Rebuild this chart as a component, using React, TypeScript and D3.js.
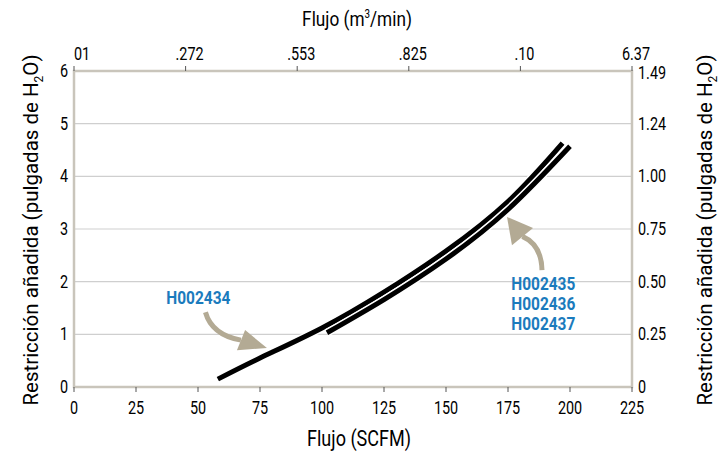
import { useEffect, useRef } from 'react';
import * as d3 from 'd3';

// H002434
const flowA = [58, 75, 100, 125, 150, 175, 197];
const restrictionA = [0.15, 0.55, 1.12, 1.8, 2.58, 3.52, 4.63];

// H002435 / H002436 / H002437
const flowB = [102, 125, 150, 175, 200];
const restrictionB = [1.03, 1.66, 2.43, 3.37, 4.57];

const bottomTicks = [0, 25, 50, 75, 100, 125, 150, 175, 200, 225];
const leftTicks = [0, 1, 2, 3, 4, 5, 6];
const rightTickLabels = ['0', '0.25', '0.50', '0.75', '1.00', '1.24', '1.49'];
const topTickLabels = ['01', '.272', '.553', '.825', '.10', '6.37'];
const groupLabels = ['H002435', 'H002436', 'H002437'];

const W = 722;
const H = 454;
const margin = { top: 71, right: 90, bottom: 67, left: 74 };

const FONT = 'Roboto, "Liberation Sans", sans-serif';
const SQUEEZE = 0.8;
const BLUE = '#1b7bbd';
const BEIGE = '#b3aa94';

export default function App() {
  const svgRef = useRef<SVGSVGElement>(null);

  useEffect(() => {
    if (!svgRef.current) return;
    document.body.style.margin = '0';
    const svg = d3.select(svgRef.current);
    svg.selectAll('*').remove();

    const x = d3.scaleLinear().domain([0, 225]).range([margin.left, W - margin.right]);
    const y = d3.scaleLinear().domain([0, 6]).range([H - margin.bottom, margin.top]);
    const xTop = d3.scaleLinear().domain([0, topTickLabels.length - 1]).range([margin.left, W - margin.right]);

    // condensed-looking text: squeeze horizontally around the anchor point
    const narrow = (
      parent: d3.Selection<any, any, any, any>,
      px: number,
      py: number,
      size: number,
      anchor: string,
      sx = SQUEEZE,
    ) =>
      parent.append('text')
        .attr('transform', `translate(${px},${py}) scale(${sx},1)`)
        .attr('text-anchor', anchor)
        .style('font-family', FONT)
        .style('font-size', `${size}px`);

    // gridlines
    svg.append('g')
      .selectAll('line')
      .data(leftTicks.slice(1, -1))
      .join('line')
      .attr('x1', x(0)).attr('x2', x(225))
      .attr('y1', (d) => y(d)).attr('y2', (d) => y(d))
      .attr('stroke', '#cfcfcf')
      .attr('stroke-width', 1.2);

    // frame
    svg.append('rect')
      .attr('x', x(0)).attr('y', y(6))
      .attr('width', x(225) - x(0)).attr('height', y(0) - y(6))
      .attr('fill', 'none')
      .attr('stroke', '#c9c5bb')
      .attr('stroke-width', 2.5);

    // bottom axis
    svg.append('g')
      .selectAll('line')
      .data(bottomTicks)
      .join('line')
      .attr('x1', (d) => x(d)).attr('x2', (d) => x(d))
      .attr('y1', y(0)).attr('y2', y(0) + 5)
      .attr('stroke', '#555').attr('stroke-width', 1);
    const gb = svg.append('g');
    bottomTicks.forEach((d) => narrow(gb, x(d), 414, 18, 'middle').text(String(d)));

    // top axis
    svg.append('g')
      .selectAll('line')
      .data(topTickLabels)
      .join('line')
      .attr('x1', (_, i) => xTop(i)).attr('x2', (_, i) => xTop(i))
      .attr('y1', y(6) - 5).attr('y2', y(6))
      .attr('stroke', '#555').attr('stroke-width', 1);
    const gt = svg.append('g');
    topTickLabels.forEach((d, i) => narrow(gt, xTop(i) + (i === 0 ? 8 : 4), 60, 18, 'middle').text(d));

    // left / right axis labels
    const gl = svg.append('g');
    leftTicks.forEach((d) => narrow(gl, x(0) - 6, y(d) + 6, 18, 'end').text(String(d)));
    const gr = svg.append('g');
    leftTicks.forEach((d, i) =>
      narrow(gr, x(225) + 6, y(d) + (i === leftTicks.length - 1 ? 8 : 6), 18, 'start').text(rightTickLabels[i]),
    );

    // axis titles
    narrow(svg, 357, 26, 21, 'middle', 0.82).call((t) => {
      t.append('tspan').text('Flujo (m');
      t.append('tspan').attr('dy', -8).style('font-size', '12px').text('3');
      t.append('tspan').attr('dy', 8).text('/min)');
    });
    narrow(svg, 359, 446, 22, 'middle', 0.82).text('Flujo (SCFM)');

    const sideTitle = (cx: number) => {
      svg.append('text')
        .attr('transform', `translate(${cx},${230}) rotate(-90)`)
        .attr('text-anchor', 'middle')
        .style('font-family', FONT).style('font-size', '20.5px')
        .call((t) => {
          t.append('tspan').text('Restricción añadida (pulgadas de H');
          t.append('tspan').attr('dy', 5).style('font-size', '12px').text('2');
          t.append('tspan').attr('dy', -5).text('O)');
        });
    };
    sideTitle(38);
    sideTitle(712);

    // curves
    const line = d3.line<[number, number]>()
      .x((d) => x(d[0]))
      .y((d) => y(d[1]))
      .curve(d3.curveNatural);

    const series = [
      flowA.map((f, i) => [f, restrictionA[i]] as [number, number]),
      flowB.map((f, i) => [f, restrictionB[i]] as [number, number]),
    ];
    series.forEach((pts) => {
      svg.append('path')
        .attr('d', line(pts))
        .attr('fill', 'none')
        .attr('stroke', '#fff')
        .attr('stroke-width', 8);
      svg.append('path')
        .attr('d', line(pts))
        .attr('fill', 'none')
        .attr('stroke', '#000')
        .attr('stroke-width', 5);
    });

    // annotation arrows (in data units)
    const arrow = (
      start: [number, number],
      ctrl: [number, number],
      end: [number, number],
      tip: [number, number],
      b1: [number, number],
      b2: [number, number],
    ) => {
      svg.append('path')
        .attr('d', `M${x(start[0])},${y(start[1])} Q${x(ctrl[0])},${y(ctrl[1])} ${x(end[0])},${y(end[1])}`)
        .attr('fill', 'none')
        .attr('stroke', BEIGE)
        .attr('stroke-width', 5);
      svg.append('path')
        .attr('d', `M${x(tip[0])},${y(tip[1])} L${x(b1[0])},${y(b1[1])} L${x(b2[0])},${y(b2[1])} Z`)
        .attr('fill', BEIGE);
    };
    arrow([53, 1.42], [55.6, 0.99], [67.3, 0.89], [77.8, 0.74], [69, 1.08], [65.7, 0.7]);
    arrow([188.7, 2.22], [188.5, 2.7], [180.8, 2.86], [174.6, 3.23], [176.6, 2.69], [185.1, 3.02]);

    // labels
    narrow(svg, x(37.2), 304, 18, 'start', 0.86)
      .style('font-weight', 'bold')
      .attr('fill', BLUE)
      .text('H002434');
    groupLabels.forEach((s, i) => {
      narrow(svg, x(176.3), 290 + i * 20, 18, 'start', 0.86)
        .style('font-weight', 'bold')
        .attr('fill', BLUE)
        .text(s);
    });
  }, []);

  return <svg ref={svgRef} width={W} height={H} style={{ display: 'block' }} />;
}
